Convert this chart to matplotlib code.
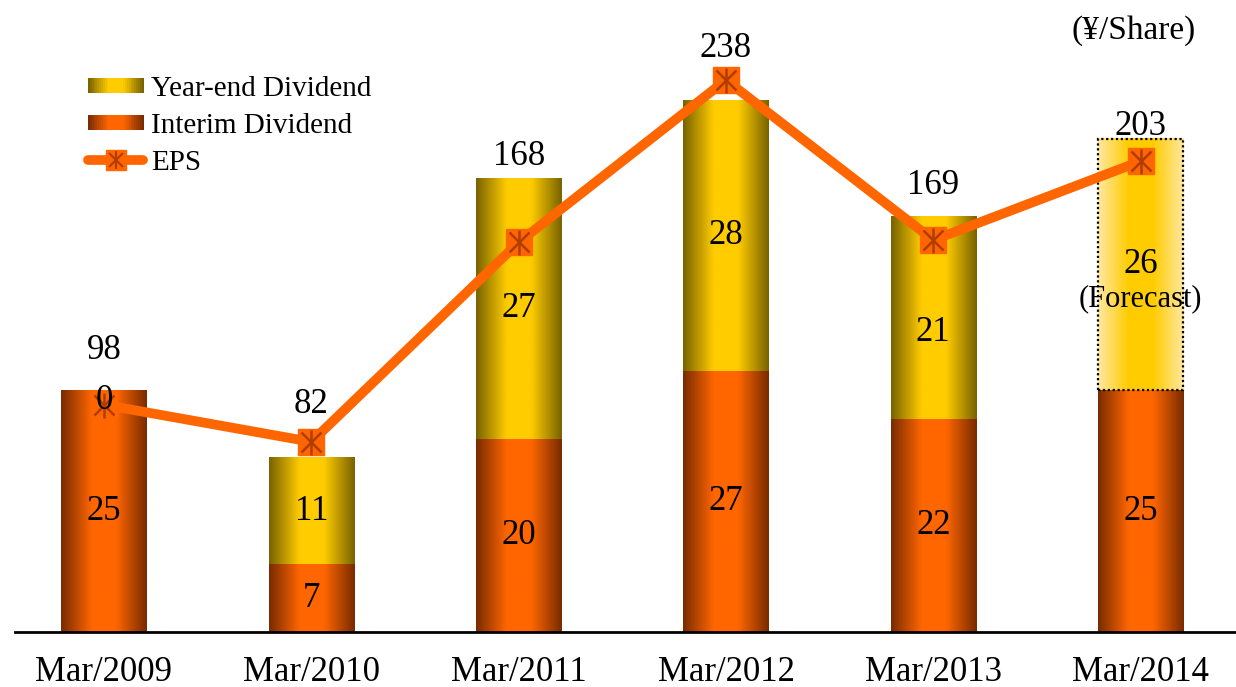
import numpy as np
import matplotlib
matplotlib.use('Agg')
import matplotlib.pyplot as plt
from matplotlib.patches import Rectangle
from matplotlib.lines import Line2D
from matplotlib.legend_handler import HandlerBase

plt.rcParams['font.family'] = ['Liberation Serif', 'DejaVu Serif']

# datos
years = ['Mar/2009', 'Mar/2010', 'Mar/2011', 'Mar/2012', 'Mar/2013', 'Mar/2014']
interim = [25, 7, 20, 27, 22, 25]
year_end = [0, 11, 27, 28, 21, 26]
eps = [98, 82, 168, 238, 169, 203]
forecast_idx = 5

# colores del degradado (borde, centro)
interim_cols = ('#7a2c00', '#ff6600')
yearend_cols = ('#7a6400', '#ffcc00')
forecast_cols = ('#ffe8a0', '#ffcc00')
eps_col = '#ff6600'
star_col = '#b03c00'


def gradient(edge, center, n=64):
    e = np.array(matplotlib.colors.to_rgb(edge))
    c = np.array(matplotlib.colors.to_rgb(center))
    t = 1 - np.abs(np.linspace(-1, 1, n))
    t = np.clip(t * 1.4, 0, 1)
    return (e[None, :] * (1 - t[:, None]) + c[None, :] * t[:, None])[None, :, :]


class GradHandler(HandlerBase):
    def __init__(self, edge, center):
        super().__init__()
        self.edge, self.center = edge, center

    def create_artists(self, legend, orig_handle, xdescent, ydescent, width, height, fontsize, trans):
        cols = gradient(self.edge, self.center, 30)[0]
        n = len(cols)
        h = height * 0.75
        y0 = -ydescent + (height - h) / 2
        arts = []
        for i, c in enumerate(cols):
            arts.append(Rectangle((-xdescent + i * width / n, y0), width / n * 1.05, h,
                                  facecolor=c, edgecolor='none', transform=trans))
        return arts


fig = plt.figure(figsize=(12.36, 6.87), dpi=100)
ax = fig.add_axes([0.012, 0.080, 0.988, 0.844])
x = np.arange(len(years))
w = 0.41

b1 = ax.bar(x, interim, w, color='none', edgecolor='none')
b2 = ax.bar(x, year_end, w, bottom=interim, color='none', edgecolor='none')

for i, p in enumerate(b1.patches):
    x0, y0 = p.get_x(), p.get_y()
    ax.imshow(gradient(*interim_cols), extent=(x0, x0 + p.get_width(), y0, y0 + p.get_height()),
              aspect='auto', zorder=2)
for i, p in enumerate(b2.patches):
    x0, y0 = p.get_x(), p.get_y()
    cols = forecast_cols if i == forecast_idx else yearend_cols
    if p.get_height() > 0:
        ax.imshow(gradient(*cols), extent=(x0, x0 + p.get_width(), y0, y0 + p.get_height()),
                  aspect='auto', zorder=2)
    if i == forecast_idx:
        ax.add_patch(Rectangle((x0, y0), p.get_width(), p.get_height(), fill=False,
                               edgecolor='black', linestyle=(0, (1, 1.2)), linewidth=1.6, zorder=3))

ax.set_xlim(-0.43, 5.46)
ax.set_ylim(0, 60)

ax.set_xticks(x)
ax.set_xticklabels(years, fontsize=25)
ax.tick_params(axis='x', length=0, pad=17)
ax.set_yticks([])
for s in ['left', 'right', 'top']:
    ax.spines[s].set_visible(False)
ax.spines['bottom'].set_linewidth(2)

ax2 = ax.twinx()
ax2.set_ylim(0, 250)
ax2.set_yticks([])
for s in ['left', 'right', 'top', 'bottom']:
    ax2.spines[s].set_visible(False)
ax2.plot(x, eps, color=eps_col, linewidth=7, zorder=3, solid_capstyle='round')
ax2.plot(x, eps, linestyle='none', marker='s', markersize=19, color=eps_col, zorder=4)
ax2.plot(x, eps, linestyle='none', marker='x', markersize=14, markeredgewidth=1.8, color=star_col, zorder=5)
ax2.plot(x, eps, linestyle='none', marker='|', markersize=18, markeredgewidth=1.8, color=star_col, zorder=5)

# etiquetas de los segmentos (en ax2 para quedar encima de la linea)
for i in range(len(years)):
    ax2.text(x[i], interim[i] / 2, str(interim[i]), ha='center', va='center', fontsize=25,
             zorder=6, transform=ax.transData)
    ya = interim[i] + year_end[i] / 2
    if i == 4:
        ya -= 1.5
    if i == 0:
        ya -= 1.0
    ax2.text(x[i], ya, str(year_end[i]), ha='center', va='center', fontsize=25,
             zorder=6, transform=ax.transData)
ax2.text(x[forecast_idx], interim[forecast_idx] + year_end[forecast_idx] / 2 - 3.5, '(Forecast)',
         ha='center', va='center', fontsize=22, zorder=6, transform=ax.transData)

eps_offsets = [39, 27, 62, 23, 39, 25]
for i, v in enumerate(eps):
    ax2.annotate(str(v), (x[i], v), xytext=(0, eps_offsets[i]), textcoords='offset points',
                 ha='center', va='center', fontsize=25, zorder=6)

ax.text(0.967, 1.038, '(¥/Share)', transform=ax.transAxes, ha='right', va='center', fontsize=24)

h1 = Rectangle((0, 0), 1, 1)
h2 = Rectangle((0, 0), 1, 1)
h3 = (Line2D([], [], color=eps_col, linewidth=7, solid_capstyle='round'),
      Line2D([], [], linestyle='none', color=eps_col, marker='s', markersize=14),
      Line2D([], [], linestyle='none', color=star_col, marker='x', markersize=10, markeredgewidth=1.5),
      Line2D([], [], linestyle='none', color=star_col, marker='|', markersize=13, markeredgewidth=1.5))
leg = ax2.legend([h1, h2, h3], ['Year-end Dividend', 'Interim Dividend', 'EPS'],
                 handler_map={h1: GradHandler(*yearend_cols), h2: GradHandler(*interim_cols)},
                 loc='upper left', bbox_to_anchor=(0.048, 0.985), frameon=False, fontsize=21,
                 handlelength=1.9, handletextpad=0.25, labelspacing=0.36, borderpad=0)

fig.savefig('out.png', dpi=100)
